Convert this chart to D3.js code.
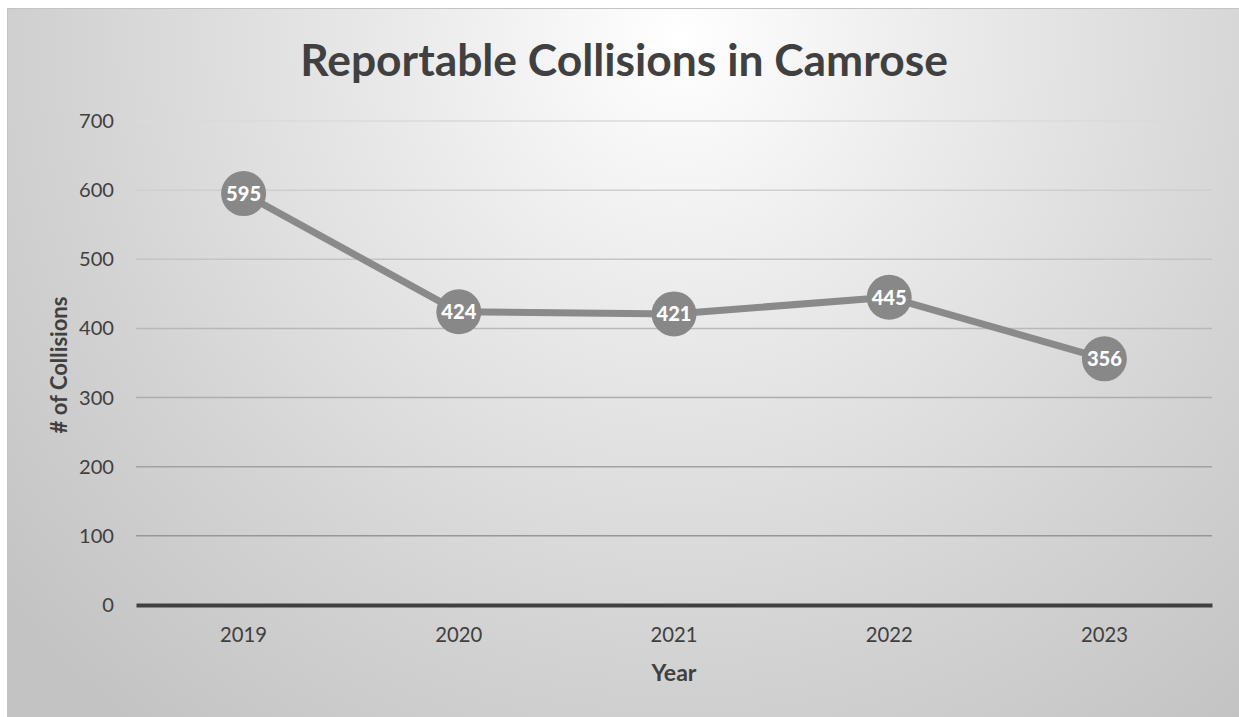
<!DOCTYPE html>
<html><head><meta charset="utf-8">
<script src="https://cdn.jsdelivr.net/npm/d3@7/dist/d3.min.js"></script>
<style>html,body{margin:0;padding:0;background:#fff;overflow:hidden}</style>
</head><body>
<svg id="c" width="1239" height="717"></svg>
<script>
const years = ["2019","2020","2021","2022","2023"];
const collisions = [595,424,421,445,356];
const yTicks = [0,100,200,300,400,500,600,700];
const title = "Reportable Collisions in Camrose";
const xTitle = "Year";
const yTitle = "# of Collisions";

const W = 1239, H = 717;
const svg = d3.select("#c");
const FONT = "Lato, 'Open Sans', sans-serif";
const defs = svg.append("defs");
const rg = defs.append("radialGradient").attr("id","bg")
  .attr("gradientUnits","userSpaceOnUse").attr("cx",680).attr("cy",40).attr("r",880)
  .attr("fx",680).attr("fy",40);
rg.append("stop").attr("offset","0").attr("stop-color","#ffffff");
rg.append("stop").attr("offset","0.3").attr("stop-color","#ebebeb");
rg.append("stop").attr("offset","0.7").attr("stop-color","#d3d3d3");
rg.append("stop").attr("offset","1").attr("stop-color","#c3c3c3");

svg.append("rect").attr("x",7.5).attr("y",8.5).attr("width",W).attr("height",H)
  .attr("fill","url(#bg)").attr("stroke","#c4c4c4").attr("stroke-width",1);

const x = d3.scaleBand().domain(years).range([136,1212]);
const y = d3.scaleLinear().domain([0,700]).range([605,121]);

function fit(sel, target, base){
  sel.attr("font-size", base);
  const w = sel.node().getComputedTextLength();
  sel.attr("font-size", base*target/w);
  return base*target/w;
}

const lg = defs.append("linearGradient").attr("id","grid")
  .attr("gradientUnits","userSpaceOnUse").attr("x1",0).attr("y1",y(700)).attr("x2",0).attr("y2",y(100));
lg.append("stop").attr("offset","0").attr("stop-color","#dadada");
lg.append("stop").attr("offset","1").attr("stop-color","#979797");

// gridlines
svg.append("g").selectAll("line").data(yTicks.filter(d=>d>0)).join("line")
  .attr("x1",136).attr("x2",1212).attr("y1",d=>y(d)).attr("y2",d=>y(d))
  .attr("stroke","url(#grid)").attr("stroke-width",1.5);

// y axis labels
const yAxis = svg.append("g").attr("transform","translate(136,0)")
  .call(d3.axisLeft(y).tickValues(yTicks).tickSize(0).tickPadding(22));
yAxis.select(".domain").remove();
const yLab = yAxis.selectAll("text").attr("font-family",FONT).attr("fill","#404040");
const ys = fit(d3.select(yLab.nodes()[7]), 35, 19);
yLab.attr("font-size", ys);

// x axis
const xAxis = svg.append("g").attr("transform","translate(0,605)")
  .call(d3.axisBottom(x).tickSize(0).tickPadding(23));
xAxis.select(".domain").attr("stroke","#404040").attr("stroke-width",4);
const xLab = xAxis.selectAll("text").attr("font-family",FONT).attr("fill","#404040");
const xs = fit(d3.select(xLab.nodes()[0]), 47, 19);
xLab.attr("font-size", xs);

// line
const pts = years.map((yr,i)=>({yr, v:collisions[i]}));
svg.append("path").datum(pts)
  .attr("d", d3.line().x(d=>x(d.yr)+x.bandwidth()/2).y(d=>y(d.v)))
  .attr("fill","none").attr("stroke","#8a8a8a").attr("stroke-width",7).attr("stroke-linejoin","round");

const m = svg.append("g").selectAll("g").data(pts).join("g")
  .attr("transform",d=>`translate(${x(d.yr)+x.bandwidth()/2},${y(d.v)})`);
m.append("circle").attr("r",22.5).attr("fill","#888888");
const dl = m.append("text").text(d=>d.v).attr("text-anchor","middle").attr("dy","0.36em")
  .attr("font-family",FONT).attr("font-weight","900").attr("fill","#ffffff");
const ds = fit(d3.select(dl.nodes()[0]), 35, 19);
dl.attr("font-size", ds);

// titles
const t = svg.append("text").text(title).attr("x",624).attr("y",76).attr("text-anchor","middle")
  .attr("font-family",FONT).attr("font-weight","bold").attr("fill","#404040");
fit(t, 648, 40);

const xt = svg.append("text").text(xTitle).attr("x",674).attr("y",681).attr("text-anchor","middle")
  .attr("font-family",FONT).attr("font-weight","bold").attr("fill","#404040");
fit(xt, 45, 17);
const yt = svg.append("text").text(yTitle).attr("transform","translate(67,365) rotate(-90)")
  .attr("text-anchor","middle")
  .attr("font-family",FONT).attr("font-weight","bold").attr("fill","#404040");
fit(yt, 137, 17);
</script>
</body></html>
